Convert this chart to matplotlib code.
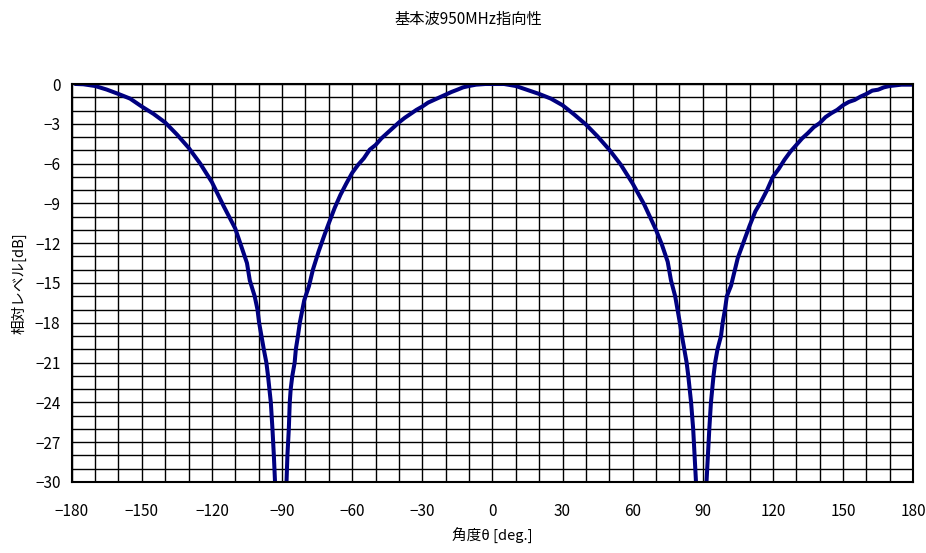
import matplotlib
matplotlib.use("Agg")
import matplotlib.pyplot as plt
import numpy as np

plt.rcParams['font.family'] = ['Noto Sans CJK JP', 'DejaVu Sans']

# 角度[deg] と 相対レベル[dB]（図から読み取り、-30dB以下は範囲外で切れる）
angle = [
    -178, -175, -170, -165, -160, -155, -150, -145, -140, -135, -130, -125,
    -120, -115, -110, -105, -103.8, -101.7, -100.5, -99.8, -98.8, -97.8,
    -96.7, -96, -94.8, -94.1, -93.5, -93, -90, -88.1, -87.7, -87.1, -86.7,
    -86.3, -85.6, -84.6, -84.1, -83.2, -82.4, -80.5, -78.5, -76.8, -74.3,
    -71.9, -70, -67.5, -65, -62.5, -60, -57.5, -55, -52.5, -50, -47.5, -45,
    -42.5, -40, -37.5, -35, -32.5, -30, -27.5, -25, -22.5, -20, -17.5, -15,
    -12.5, -10, -7, -3, 0, 5, 10, 15, 20, 25, 30, 35, 40, 45, 50, 55, 60,
    65, 70, 72.5, 75, 76.4, 78.2, 79.2, 80.2, 81.1, 82.1, 83.1, 83.8, 85,
    85.9, 86.5, 87.1, 89.5, 91.6, 92.2, 92.8, 93.5, 94.6, 95.3, 96.3, 97.8,
    98.5, 99.5, 100.3, 102.1, 105, 107.5, 110, 112.5, 115, 117.5, 120,
    122.5, 125, 127.5, 130, 132.5, 135, 137.5, 140, 142.5, 145, 147.5, 150,
    152.5, 155, 157.5, 160, 162.5, 165, 167.5, 170, 175, 180,
]
level = [
    0.0, -0.02, -0.15, -0.42, -0.75, -1.1, -1.7, -2.25, -2.9, -3.8, -4.8, -6.0,
    -7.4, -9.2, -10.9, -13.5, -14.8, -16, -17, -18, -19, -20,
    -21, -22, -24, -26, -28, -30, -40, -30, -28, -26, -24,
    -23, -22, -21, -20, -19, -18, -16.3, -15.25, -14, -12.6,
    -11.4, -10.5, -9.35, -8.35, -7.5, -6.7, -6.1, -5.6, -4.95, -4.6, -4.1, -3.7,
    -3.3, -2.9, -2.55, -2.25, -1.95, -1.7, -1.4, -1.2, -1.0, -0.8, -0.6, -0.43,
    -0.25, -0.15, -0.05, 0, 0, 0, -0.15, -0.45, -0.75, -1.1, -1.6, -2.3, -3.05,
    -3.95, -4.95, -6.1, -7.5,
    -9.1, -11.0, -12.1, -13.4, -14.8, -16, -17, -18, -19, -20, -21, -22, -24,
    -26, -28, -30, -40, -30, -28, -26, -24, -22, -21, -20, -19,
    -18, -17, -16, -15.2, -13.1, -11.9, -10.7, -9.6, -8.85, -8.0, -7.0,
    -6.4, -5.7, -5.1, -4.6, -4.1, -3.7, -3.25, -2.95, -2.5, -2.2, -1.95, -1.6,
    -1.35, -1.2, -0.95, -0.75, -0.5, -0.43, -0.25, -0.15, -0.05, -0.05,
]

xticks = np.arange(-180, 181, 30)
yticks = np.arange(-30, 1, 3)

fig = plt.figure(figsize=(9.26, 5.53), dpi=100)
ax = fig.add_axes([0.0774, 0.1284, 0.9087, 0.7197])

# グリッド（横1dB、縦10度）
ax.set_xticks(np.arange(-180, 181, 10), minor=True)
ax.set_yticks(np.arange(-30, 1, 1), minor=True)
ax.grid(which="both", color="black", linewidth=1.0)
ax.set_axisbelow(True)

ax.plot(angle, level, color="#000080", linewidth=2.9, solid_joinstyle="round")

ax.set_xlim(-180, 180)
ax.set_ylim(-30, 0)
ax.set_xticks(xticks)
ax.set_yticks(yticks)
ax.tick_params(which="both", length=0)
ax.tick_params(axis="x", pad=15, labelsize=11)
ax.tick_params(axis="y", pad=8, labelsize=11)
for s in ax.spines.values():
    s.set_linewidth(1.5)
    s.set_color("black")

ax.set_xlabel("角度θ [deg.]", fontsize=10.5)
ax.set_ylabel("相対レベル[dB]", fontsize=10.5)
ax.xaxis.set_label_coords(0.5, -0.115)
ax.yaxis.set_label_coords(-0.053, 0.5)

fig.text(0.506, 0.965, "基本波950MHz指向性", ha="center", va="center", fontsize=11)

fig.savefig("out.png", dpi=100)
plt.close(fig)
